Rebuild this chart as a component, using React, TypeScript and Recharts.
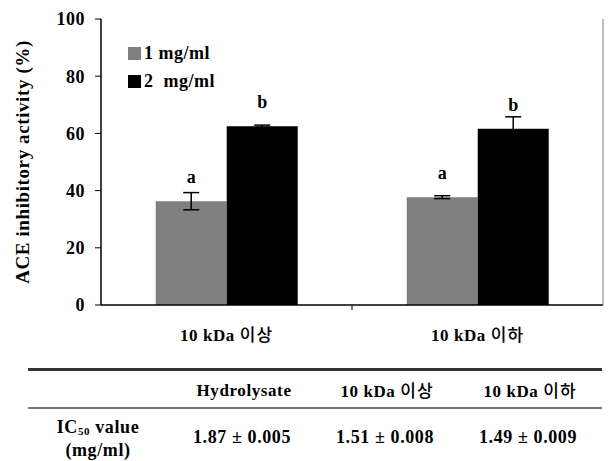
import React from "react";
import {
  BarChart,
  Bar,
  XAxis,
  YAxis,
  ErrorBar,
  LabelList,
  Legend,
  Label,
} from "recharts";

const categories = ["10 kDa 이상", "10 kDa 이하"];
const dose1 = [36.3, 37.7];
const dose1Err = [3.0, 0.5];
const dose2 = [62.5, 61.6];
const dose2Err = [0.4, 4.2];
const dose1Letters = ["a", "a"];
const dose2Letters = ["b", "b"];
const yTicks = [0, 20, 40, 60, 80, 100];

const tableHeaders = ["Hydrolysate", "10 kDa 이상", "10 kDa 이하"];
const ic50Values = ["1.87 ± 0.005", "1.51 ± 0.008", "1.49 ± 0.009"];

const serif = "'Liberation Serif', 'Times New Roman', serif";
const korean = "'Noto Sans CJK KR', sans-serif";

const chartData = categories.map((name, i) => ({
  name,
  d1: dose1[i],
  e1: dose1Err[i],
  l1: dose1Letters[i],
  d2: dose2[i],
  e2: dose2Err[i],
  l2: dose2Letters[i],
}));

// splits "10 kDa 이상" so the Korean part gets its own font
function MixedText({ text }: { text: string }) {
  const idx = text.search(/[\uAC00-\uD7A3]/);
  if (idx < 0) return <tspan>{text}</tspan>;
  return (
    <>
      <tspan>{text.slice(0, idx)}</tspan>
      <tspan fontFamily={korean} fontWeight={500} letterSpacing={1}>
        {text.slice(idx)}
      </tspan>
    </>
  );
}

function XTick(props: any) {
  const { x, y, payload, index } = props;
  const step = 251;
  return (
    <g>
      {index === 0 && (
        <line x1={x + step / 2} x2={x + step / 2} y1={y - 8} y2={y - 3} stroke="#000" />
      )}
      <text
        x={x}
        y={y + 28}
        textAnchor="middle"
        fontFamily={serif}
        fontWeight="bold"
        fontSize={17}
        letterSpacing={0.6}
        fill="#000"
      >
        <MixedText text={payload.value} />
      </text>
    </g>
  );
}

function Letter(props: any) {
  const { x, y, width, value } = props;
  return (
    <text
      x={x + width / 2}
      y={y - 18}
      textAnchor="middle"
      fontFamily={serif}
      fontWeight="bold"
      fontSize={18}
      fill="#000"
    >
      {value}
    </text>
  );
}

function LegendBox({ payload }: any) {
  return (
    <div style={{ fontFamily: serif, fontWeight: "bold", fontSize: 18, letterSpacing: 0.5, textAlign: "left" }}>
      {payload.map((p: any) => (
        <div key={p.value} style={{ display: "flex", alignItems: "center", height: 28 }}>
          <span
            style={{ width: 13, height: 13, background: p.color, display: "inline-block", marginRight: 3 }}
          />
          <span style={{ whiteSpace: "pre" }}>{p.value}</span>
        </div>
      ))}
    </div>
  );
}

function YTitle() {
  return (
    <text
      x={22}
      y={162}
      transform="rotate(-90, 22, 162)"
      textAnchor="middle"
      dominantBaseline="central"
      fontFamily={serif}
      fontWeight="bold"
      fontSize={19}
      letterSpacing={0.6}
      fill="#000"
    >
      ACE inhibitory activity (%)
    </text>
  );
}

const cell: React.CSSProperties = {
  position: "absolute",
  transform: "translate(-50%, -50%)",
  whiteSpace: "nowrap",
  fontFamily: serif,
  fontWeight: "bold",
  fontSize: 17,
  letterSpacing: 0.6,
  textAlign: "center",
  lineHeight: 1,
};

const headerX = [244, 387, 530];

export default function App() {
  return (
    <div style={{ position: "absolute", left: 0, top: 0, width: 608, height: 461, background: "#fff" }}>
      <BarChart
        width={608}
        height={350}
        data={chartData}
        margin={{ top: 19, right: 0, left: 0, bottom: 0 }}
        barCategoryGap="21.8%"
        barGap={0}
      >
        <XAxis
          dataKey="name"
          height={45}
          axisLine={{ stroke: "#000", strokeWidth: 1.5 }}
          tickLine={false}
          tick={<XTick />}
          interval={0}
        />
        <XAxis xAxisId="top" dataKey="name" orientation="top" height={0} tick={false} tickLine={false} axisLine={{ stroke: "#777" }} />
        <YAxis
          width={101}
          domain={[0, 100]}
          ticks={yTicks}
          axisLine={{ stroke: "#000", strokeWidth: 1.5 }}
          tickLine={{ stroke: "#000" }}
          tickSize={6}
          tickMargin={10}
          tick={{ fontFamily: serif, fontWeight: "bold", fontSize: 18, fill: "#000", letterSpacing: 0.5 }}
        >
          <Label content={<YTitle />} />
        </YAxis>
        <YAxis yAxisId="right" orientation="right" width={5} tick={false} tickLine={false} axisLine={{ stroke: "#777" }} />
        <Legend
          layout="horizontal"
          verticalAlign="middle"
          align="center"
          content={<LegendBox />}
          wrapperStyle={{ left: 128, top: 39, width: 120 }}
        />
        <Bar dataKey="d1" name="1 mg/ml" fill="#808080" isAnimationActive={false}>
          <ErrorBar dataKey="e1" width={8} stroke="#000" strokeWidth={1.5} />
          <LabelList dataKey="l1" content={<Letter />} />
        </Bar>
        <Bar dataKey="d2" name="2  mg/ml" fill="#000000" isAnimationActive={false}>
          <ErrorBar dataKey="e2" width={8} stroke="#000" strokeWidth={1.5} />
          <LabelList dataKey="l2" content={<Letter />} />
        </Bar>
      </BarChart>

      <div style={{ position: "absolute", left: 28, top: 368, width: 574, height: 3, background: "#333" }} />
      <div style={{ position: "absolute", left: 28, top: 407, width: 574, height: 2, background: "#777" }} />
      {tableHeaders.map((h, i) => {
        const idx = h.search(/[\uAC00-\uD7A3]/);
        return (
          <div key={h} style={{ ...cell, left: headerX[i], top: 390 }}>
            {idx < 0 ? h : (
              <>
                {h.slice(0, idx)}
                <span style={{ fontFamily: korean, fontWeight: 500, letterSpacing: 1 }}>{h.slice(idx)}</span>
              </>
            )}
          </div>
        );
      })}
      <div style={{ ...cell, left: 98, top: 427, fontSize: 18 }}>
        IC<sub style={{ fontSize: 11, verticalAlign: "-2px" }}>50</sub> value
      </div>
      <div style={{ ...cell, left: 98, top: 450, fontSize: 18 }}>(mg/ml)</div>
      {ic50Values.map((v, i) => (
        <div key={v} style={{ ...cell, left: headerX[i] - 2, top: 437, fontSize: 18 }}>
          {v}
        </div>
      ))}
    </div>
  );
}
